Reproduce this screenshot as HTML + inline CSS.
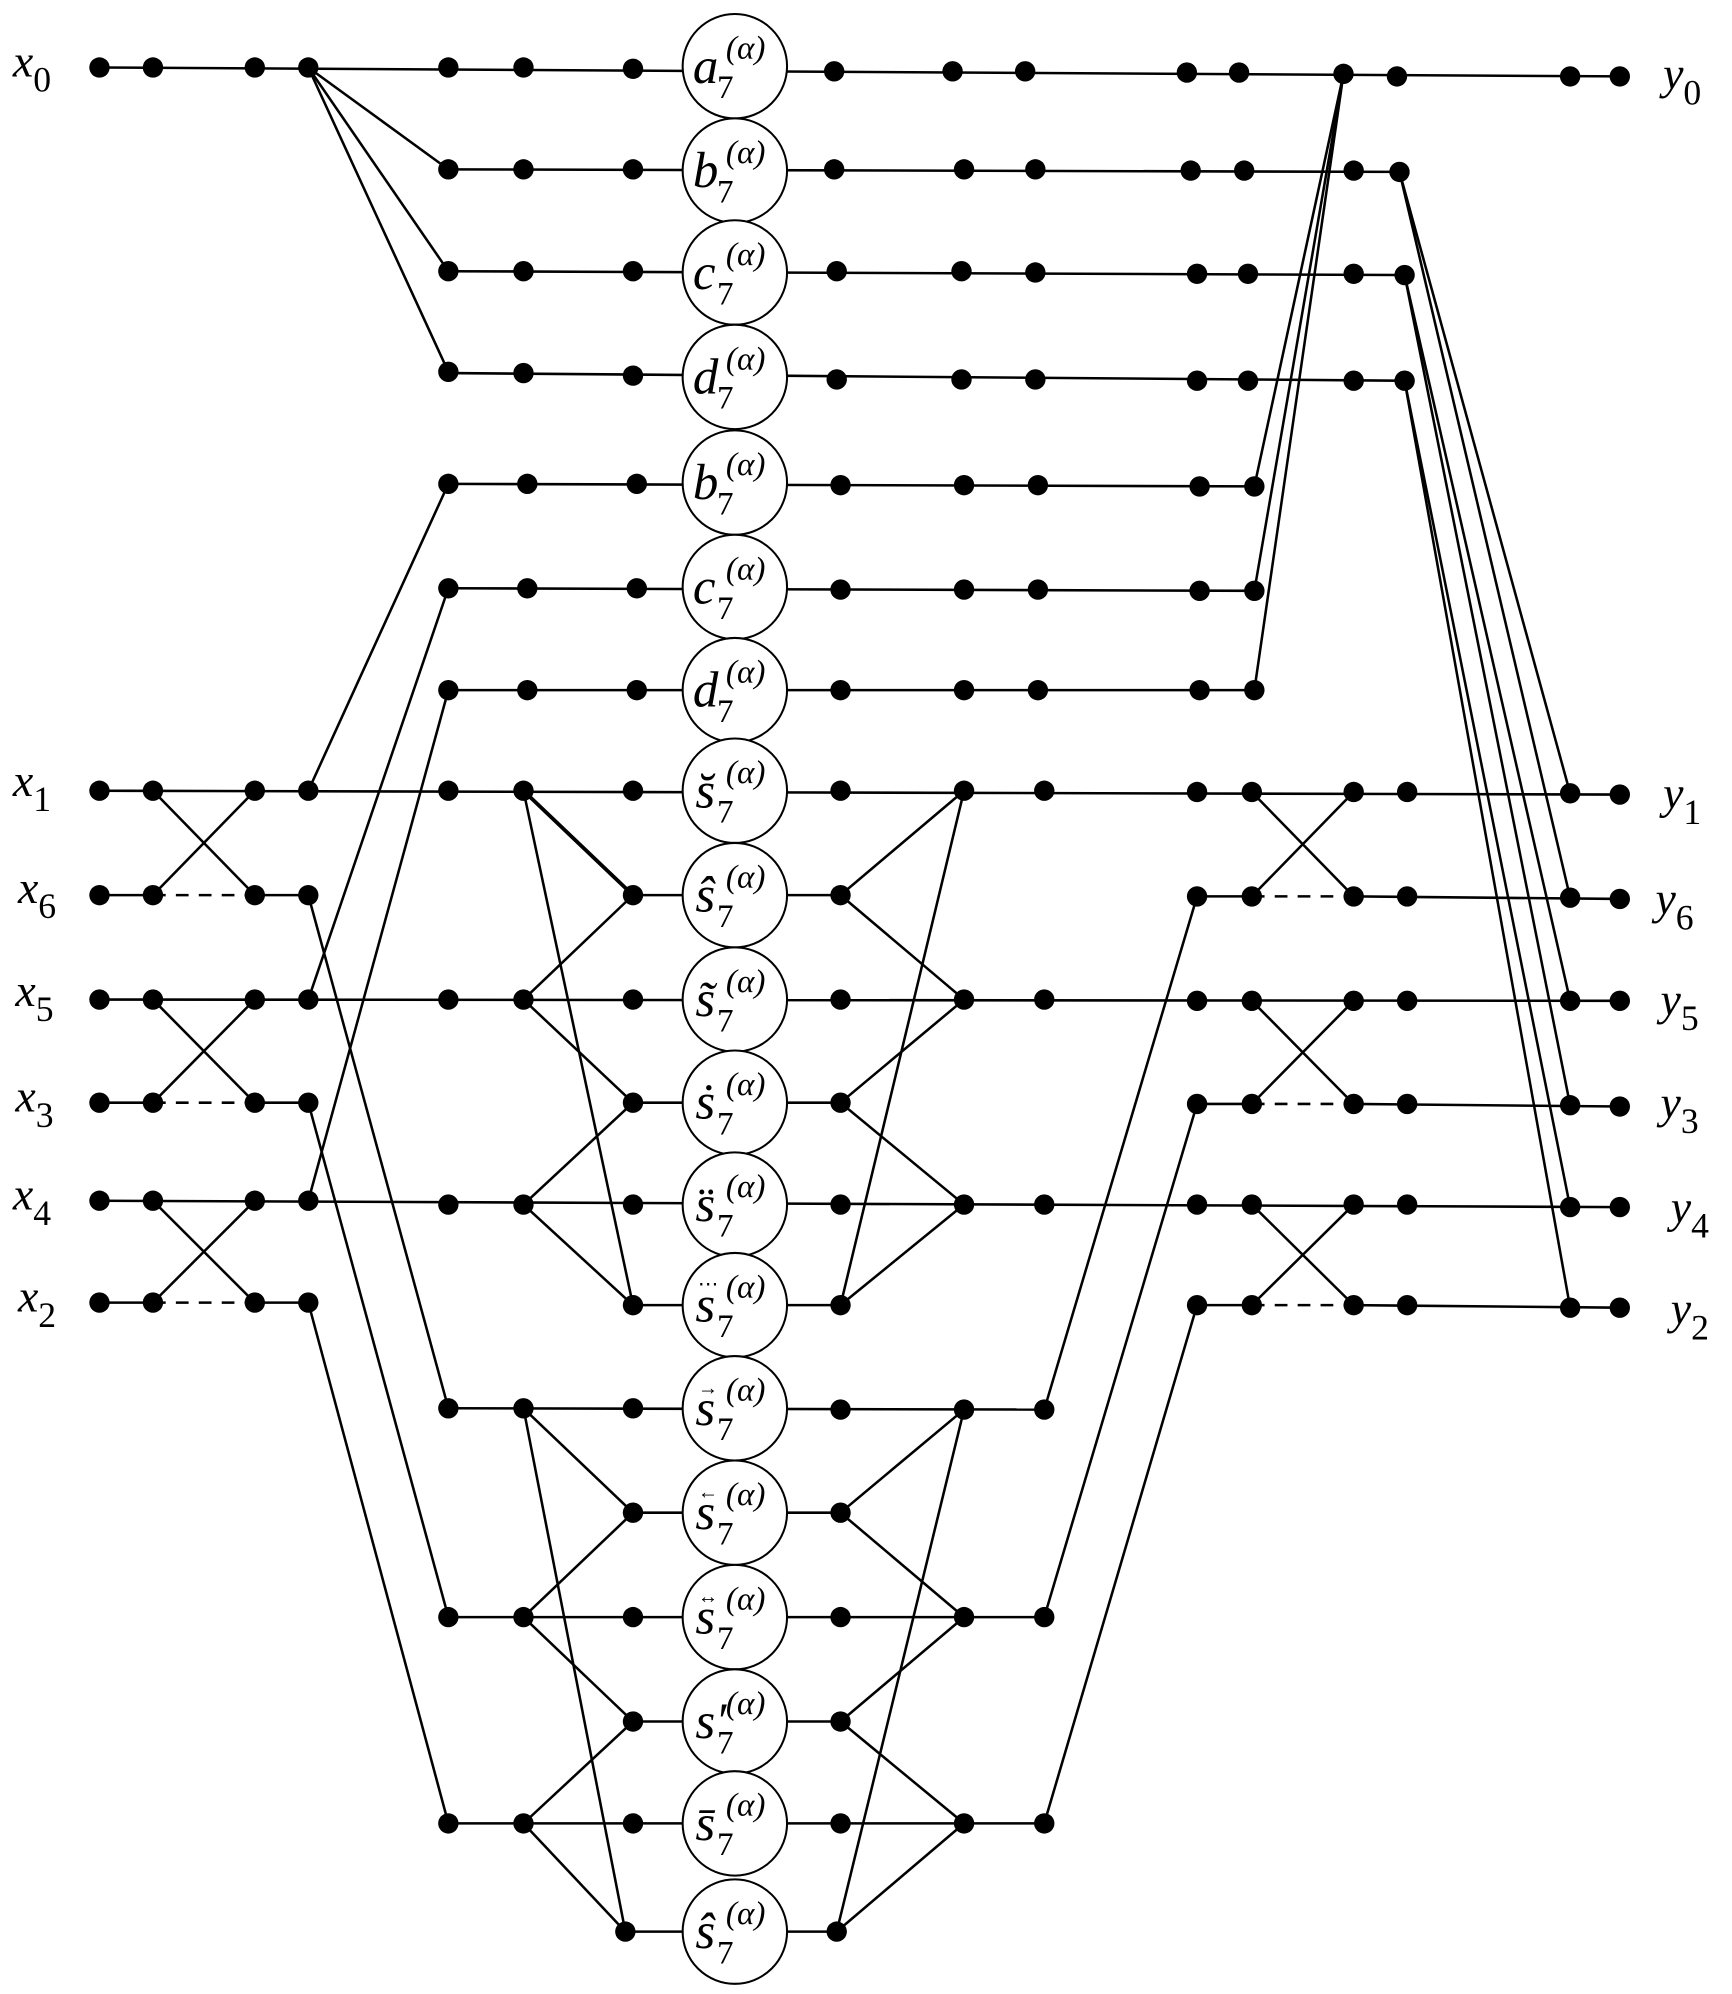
<!DOCTYPE html>
<html><head><meta charset="utf-8"><style>
html,body{margin:0;padding:0;background:#fff;}
svg{display:block;}
.t{font-family:"Liberation Serif","DejaVu Serif",serif;font-style:italic;}
</style></head><body>
<svg width="1732" height="1994" viewBox="0 0 1360 1566" xmlns="http://www.w3.org/2000/svg">
<g stroke="#000" stroke-width="2" fill="none">
<line x1="78" y1="53" x2="1272" y2="60"/>
<line x1="242" y1="53" x2="352" y2="133"/>
<line x1="242" y1="53" x2="352" y2="213"/>
<line x1="242" y1="53" x2="352" y2="292"/>
<line x1="352" y1="133" x2="1099" y2="135"/>
<line x1="352" y1="213" x2="1103" y2="216"/>
<line x1="352" y1="293" x2="1103" y2="299"/>
<line x1="352" y1="380" x2="985" y2="382"/>
<line x1="352" y1="462" x2="985" y2="464"/>
<line x1="352" y1="542" x2="985" y2="542"/>
<line x1="1055" y1="58" x2="985" y2="382"/>
<line x1="1055" y1="58" x2="985" y2="464"/>
<line x1="1055" y1="58" x2="985" y2="542"/>
<line x1="1099" y1="135" x2="1233" y2="623"/>
<line x1="1099" y1="135" x2="1233" y2="705"/>
<line x1="1103" y1="216" x2="1233" y2="786"/>
<line x1="1103" y1="216" x2="1233" y2="868"/>
<line x1="1103" y1="299" x2="1233" y2="948"/>
<line x1="1103" y1="299" x2="1233" y2="1027"/>
<line x1="78" y1="621" x2="1272" y2="624"/>
<line x1="78" y1="785" x2="1272" y2="786"/>
<line x1="78" y1="943" x2="1272" y2="948"/>
<line x1="78" y1="703" x2="120" y2="703"/><line x1="200" y1="703" x2="242" y2="703"/>
<line x1="78" y1="866" x2="120" y2="866"/><line x1="200" y1="866" x2="242" y2="866"/>
<line x1="78" y1="1023" x2="120" y2="1023"/><line x1="200" y1="1023" x2="242" y2="1023"/>
<g stroke-dasharray="10,8"><line x1="120" y1="703" x2="200" y2="703"/><line x1="120" y1="866" x2="200" y2="866"/><line x1="120" y1="1023" x2="200" y2="1023"/>
<line x1="983" y1="704" x2="1063" y2="704"/><line x1="983" y1="867" x2="1063" y2="867"/><line x1="983" y1="1025" x2="1063" y2="1025"/></g>
<line x1="120" y1="621" x2="200" y2="703"/><line x1="120" y1="703" x2="200" y2="621"/>
<line x1="120" y1="785" x2="200" y2="866"/><line x1="120" y1="866" x2="200" y2="785"/>
<line x1="120" y1="943" x2="200" y2="1023"/><line x1="120" y1="1023" x2="200" y2="943"/>
<line x1="242" y1="621" x2="352" y2="380"/>
<line x1="242" y1="785" x2="352" y2="462"/>
<line x1="242" y1="943" x2="352" y2="542"/>
<line x1="242" y1="703" x2="352" y2="1106"/>
<line x1="242" y1="866" x2="352" y2="1270"/>
<line x1="242" y1="1023" x2="352" y2="1432"/>
<line x1="497" y1="703" x2="660" y2="703"/><line x1="497" y1="866" x2="660" y2="866"/><line x1="497" y1="1025" x2="660" y2="1025"/>
<line x1="411" y1="621" x2="497" y2="703" stroke-width="3"/><line x1="411" y1="621" x2="497" y2="1025"/>
<line x1="411" y1="785" x2="497" y2="703"/><line x1="411" y1="785" x2="497" y2="866"/>
<line x1="411" y1="946" x2="497" y2="866"/><line x1="411" y1="946" x2="497" y2="1025"/>
<line x1="757" y1="621" x2="660" y2="703"/><line x1="757" y1="621" x2="660" y2="1025"/>
<line x1="757" y1="785" x2="660" y2="703"/><line x1="757" y1="785" x2="660" y2="866"/>
<line x1="757" y1="946" x2="660" y2="866"/><line x1="757" y1="946" x2="660" y2="1025"/>
<line x1="352" y1="1106" x2="820" y2="1107"/><line x1="352" y1="1270" x2="820" y2="1270"/><line x1="352" y1="1432" x2="820" y2="1432"/>
<line x1="497" y1="1188" x2="660" y2="1188"/><line x1="497" y1="1352" x2="660" y2="1352"/><line x1="491" y1="1517" x2="657" y2="1517"/>
<line x1="411" y1="1106" x2="497" y2="1188"/><line x1="411" y1="1106" x2="491" y2="1517"/>
<line x1="411" y1="1270" x2="497" y2="1188"/><line x1="411" y1="1270" x2="497" y2="1352"/>
<line x1="411" y1="1432" x2="497" y2="1352"/><line x1="411" y1="1432" x2="491" y2="1517"/>
<line x1="757" y1="1107" x2="660" y2="1188"/><line x1="757" y1="1107" x2="657" y2="1517"/>
<line x1="757" y1="1270" x2="660" y2="1188"/><line x1="757" y1="1270" x2="660" y2="1352"/>
<line x1="757" y1="1432" x2="660" y2="1352"/><line x1="757" y1="1432" x2="657" y2="1517"/>
<line x1="820" y1="1107" x2="940" y2="704"/><line x1="820" y1="1270" x2="940" y2="867"/><line x1="820" y1="1432" x2="940" y2="1025"/>
<line x1="940" y1="704" x2="983" y2="704"/><line x1="1063" y1="704" x2="1272" y2="706"/>
<line x1="940" y1="867" x2="983" y2="867"/><line x1="1063" y1="867" x2="1272" y2="869"/>
<line x1="940" y1="1025" x2="983" y2="1025"/><line x1="1063" y1="1025" x2="1272" y2="1027"/>
<line x1="983" y1="622" x2="1063" y2="704"/><line x1="983" y1="704" x2="1063" y2="622"/>
<line x1="983" y1="786" x2="1063" y2="867"/><line x1="983" y1="867" x2="1063" y2="786"/>
<line x1="983" y1="946" x2="1063" y2="1025"/><line x1="983" y1="1025" x2="1063" y2="946"/>
</g>
<g stroke="#000" stroke-width="1.6" fill="#fff">
<circle cx="577" cy="52" r="41"/><circle cx="577" cy="134" r="41"/><circle cx="577" cy="214" r="41"/><circle cx="577" cy="296" r="41"/>
<circle cx="577" cy="379" r="41"/><circle cx="577" cy="461" r="41"/><circle cx="577" cy="542" r="41"/>
<circle cx="577" cy="621" r="41"/><circle cx="577" cy="703" r="41"/><circle cx="577" cy="785" r="41"/><circle cx="577" cy="866" r="41"/><circle cx="577" cy="946" r="41"/><circle cx="577" cy="1025" r="41"/>
<circle cx="577" cy="1106" r="41"/><circle cx="577" cy="1188" r="41"/><circle cx="577" cy="1270" r="41"/><circle cx="577" cy="1352" r="41"/><circle cx="577" cy="1432" r="41"/><circle cx="577" cy="1517" r="41"/>
</g>
<g fill="#000">
<circle cx="78" cy="53" r="8"/><circle cx="120" cy="53" r="8"/><circle cx="200" cy="53" r="8"/><circle cx="242" cy="53" r="8"/>
<circle cx="352" cy="53" r="8"/><circle cx="411" cy="53" r="8"/><circle cx="497" cy="54" r="8"/>
<circle cx="655" cy="56" r="8"/><circle cx="748" cy="56" r="8"/><circle cx="805" cy="56" r="8"/><circle cx="932" cy="57" r="8"/><circle cx="973" cy="57" r="8"/><circle cx="1055" cy="58" r="8"/><circle cx="1097" cy="60" r="8"/><circle cx="1233" cy="60" r="8"/><circle cx="1272" cy="60" r="8"/>
<circle cx="352" cy="133" r="8"/><circle cx="411" cy="133" r="8"/><circle cx="497" cy="133" r="8"/><circle cx="655" cy="133" r="8"/><circle cx="757" cy="133" r="8"/><circle cx="813" cy="133" r="8"/><circle cx="935" cy="134" r="8"/><circle cx="977" cy="134" r="8"/><circle cx="1063" cy="134" r="8"/><circle cx="1099" cy="135" r="8"/>
<circle cx="352" cy="213" r="8"/><circle cx="411" cy="213" r="8"/><circle cx="497" cy="213" r="8"/><circle cx="657" cy="213" r="8"/><circle cx="755" cy="213" r="8"/><circle cx="813" cy="214" r="8"/><circle cx="940" cy="215" r="8"/><circle cx="980" cy="215" r="8"/><circle cx="1063" cy="215" r="8"/><circle cx="1103" cy="216" r="8"/>
<circle cx="352" cy="292" r="8"/><circle cx="411" cy="293" r="8"/><circle cx="497" cy="295" r="8"/><circle cx="657" cy="298" r="8"/><circle cx="755" cy="298" r="8"/><circle cx="813" cy="298" r="8"/><circle cx="940" cy="299" r="8"/><circle cx="980" cy="299" r="8"/><circle cx="1063" cy="299" r="8"/><circle cx="1103" cy="299" r="8"/>
<circle cx="352" cy="380" r="8"/><circle cx="414" cy="380" r="8"/><circle cx="500" cy="380" r="8"/><circle cx="660" cy="381" r="8"/><circle cx="757" cy="381" r="8"/><circle cx="815" cy="381" r="8"/><circle cx="942" cy="382" r="8"/><circle cx="985" cy="382" r="8"/>
<circle cx="352" cy="462" r="8"/><circle cx="414" cy="462" r="8"/><circle cx="500" cy="462" r="8"/><circle cx="660" cy="463" r="8"/><circle cx="757" cy="463" r="8"/><circle cx="815" cy="463" r="8"/><circle cx="942" cy="464" r="8"/><circle cx="985" cy="464" r="8"/>
<circle cx="352" cy="542" r="8"/><circle cx="414" cy="542" r="8"/><circle cx="500" cy="542" r="8"/><circle cx="660" cy="542" r="8"/><circle cx="757" cy="542" r="8"/><circle cx="815" cy="542" r="8"/><circle cx="942" cy="542" r="8"/><circle cx="985" cy="542" r="8"/>
<circle cx="78" cy="621" r="8"/><circle cx="120" cy="621" r="8"/><circle cx="200" cy="621" r="8"/><circle cx="242" cy="621" r="8"/>
<circle cx="78" cy="703" r="8"/><circle cx="120" cy="703" r="8"/><circle cx="200" cy="703" r="8"/><circle cx="242" cy="703" r="8"/>
<circle cx="78" cy="785" r="8"/><circle cx="120" cy="785" r="8"/><circle cx="200" cy="785" r="8"/><circle cx="242" cy="785" r="8"/>
<circle cx="78" cy="866" r="8"/><circle cx="120" cy="866" r="8"/><circle cx="200" cy="866" r="8"/><circle cx="242" cy="866" r="8"/>
<circle cx="78" cy="943" r="8"/><circle cx="120" cy="943" r="8"/><circle cx="200" cy="943" r="8"/><circle cx="242" cy="943" r="8"/>
<circle cx="78" cy="1023" r="8"/><circle cx="120" cy="1023" r="8"/><circle cx="200" cy="1023" r="8"/><circle cx="242" cy="1023" r="8"/>
<circle cx="352" cy="621" r="8"/><circle cx="411" cy="621" r="8"/><circle cx="352" cy="785" r="8"/><circle cx="411" cy="785" r="8"/><circle cx="352" cy="946" r="8"/><circle cx="411" cy="946" r="8"/>
<circle cx="497" cy="621" r="8"/><circle cx="497" cy="703" r="8"/><circle cx="497" cy="785" r="8"/><circle cx="497" cy="866" r="8"/><circle cx="497" cy="946" r="8"/><circle cx="497" cy="1025" r="8"/>
<circle cx="660" cy="621" r="8"/><circle cx="660" cy="703" r="8"/><circle cx="660" cy="785" r="8"/><circle cx="660" cy="866" r="8"/><circle cx="660" cy="946" r="8"/><circle cx="660" cy="1025" r="8"/>
<circle cx="757" cy="621" r="8"/><circle cx="820" cy="621" r="8"/><circle cx="757" cy="785" r="8"/><circle cx="820" cy="785" r="8"/><circle cx="757" cy="946" r="8"/><circle cx="820" cy="946" r="8"/>
<circle cx="352" cy="1106" r="8"/><circle cx="411" cy="1106" r="8"/><circle cx="352" cy="1270" r="8"/><circle cx="411" cy="1270" r="8"/><circle cx="352" cy="1432" r="8"/><circle cx="411" cy="1432" r="8"/>
<circle cx="497" cy="1106" r="8"/><circle cx="497" cy="1188" r="8"/><circle cx="497" cy="1270" r="8"/><circle cx="497" cy="1352" r="8"/><circle cx="497" cy="1432" r="8"/><circle cx="491" cy="1517" r="8"/>
<circle cx="660" cy="1107" r="8"/><circle cx="660" cy="1188" r="8"/><circle cx="660" cy="1270" r="8"/><circle cx="660" cy="1352" r="8"/><circle cx="660" cy="1432" r="8"/><circle cx="657" cy="1517" r="8"/>
<circle cx="757" cy="1107" r="8"/><circle cx="820" cy="1107" r="8"/><circle cx="757" cy="1270" r="8"/><circle cx="820" cy="1270" r="8"/><circle cx="757" cy="1432" r="8"/><circle cx="820" cy="1432" r="8"/>
<circle cx="940" cy="622" r="8"/><circle cx="983" cy="622" r="8"/><circle cx="1063" cy="622" r="8"/><circle cx="1105" cy="622" r="8"/><circle cx="1233" cy="623" r="8"/><circle cx="1272" cy="624" r="8"/>
<circle cx="940" cy="704" r="8"/><circle cx="983" cy="704" r="8"/><circle cx="1063" cy="704" r="8"/><circle cx="1105" cy="704" r="8"/><circle cx="1233" cy="705" r="8"/><circle cx="1272" cy="706" r="8"/>
<circle cx="940" cy="786" r="8"/><circle cx="983" cy="786" r="8"/><circle cx="1063" cy="786" r="8"/><circle cx="1105" cy="786" r="8"/><circle cx="1233" cy="786" r="8"/><circle cx="1272" cy="786" r="8"/>
<circle cx="940" cy="867" r="8"/><circle cx="983" cy="867" r="8"/><circle cx="1063" cy="867" r="8"/><circle cx="1105" cy="867" r="8"/><circle cx="1233" cy="868" r="8"/><circle cx="1272" cy="869" r="8"/>
<circle cx="940" cy="946" r="8"/><circle cx="983" cy="946" r="8"/><circle cx="1063" cy="946" r="8"/><circle cx="1105" cy="946" r="8"/><circle cx="1233" cy="948" r="8"/><circle cx="1272" cy="948" r="8"/>
<circle cx="940" cy="1025" r="8"/><circle cx="983" cy="1025" r="8"/><circle cx="1063" cy="1025" r="8"/><circle cx="1105" cy="1025" r="8"/><circle cx="1233" cy="1027" r="8"/><circle cx="1272" cy="1027" r="8"/>
</g>
<g class="t" fill="#000">
<text x="544" y="65" font-size="40">a</text><text x="570" y="46" font-size="26">(α)</text><text x="563" y="77" font-size="26" font-style="normal">7</text>
<text x="544" y="147" font-size="40">b</text><text x="570" y="128" font-size="26">(α)</text><text x="563" y="159" font-size="26" font-style="normal">7</text>
<text x="544" y="227" font-size="40">c</text><text x="570" y="208" font-size="26">(α)</text><text x="563" y="239" font-size="26" font-style="normal">7</text>
<text x="544" y="309" font-size="40">d</text><text x="570" y="290" font-size="26">(α)</text><text x="563" y="321" font-size="26" font-style="normal">7</text>
<text x="544" y="392" font-size="40">b</text><text x="570" y="373" font-size="26">(α)</text><text x="563" y="404" font-size="26" font-style="normal">7</text>
<text x="544" y="474" font-size="40">c</text><text x="570" y="455" font-size="26">(α)</text><text x="563" y="486" font-size="26" font-style="normal">7</text>
<text x="544" y="555" font-size="40">d</text><text x="570" y="536" font-size="26">(α)</text><text x="563" y="567" font-size="26" font-style="normal">7</text>
<text x="546" y="634" font-size="40">s̆</text><text x="570" y="615" font-size="26">(α)</text><text x="563" y="646" font-size="26" font-style="normal">7</text>
<text x="546" y="716" font-size="40">ŝ</text><text x="570" y="697" font-size="26">(α)</text><text x="563" y="728" font-size="26" font-style="normal">7</text>
<text x="546" y="798" font-size="40">s̃</text><text x="570" y="779" font-size="26">(α)</text><text x="563" y="810" font-size="26" font-style="normal">7</text>
<text x="546" y="879" font-size="40">ṡ</text><text x="570" y="860" font-size="26">(α)</text><text x="563" y="891" font-size="26" font-style="normal">7</text>
<text x="546" y="959" font-size="40">s̈</text><text x="570" y="940" font-size="26">(α)</text><text x="563" y="971" font-size="26" font-style="normal">7</text>
<text x="546" y="1038" font-size="40">s</text><text x="548" y="1014" font-size="16" font-style="normal">⋯</text><text x="570" y="1019" font-size="26">(α)</text><text x="563" y="1050" font-size="26" font-style="normal">7</text>
<text x="546" y="1119" font-size="40">s</text><text x="548" y="1095" font-size="16" font-style="normal">→</text><text x="570" y="1100" font-size="26">(α)</text><text x="563" y="1131" font-size="26" font-style="normal">7</text>
<text x="546" y="1201" font-size="40">s</text><text x="548" y="1177" font-size="16" font-style="normal">←</text><text x="570" y="1182" font-size="26">(α)</text><text x="563" y="1213" font-size="26" font-style="normal">7</text>
<text x="546" y="1283" font-size="40">s</text><text x="548" y="1259" font-size="16" font-style="normal">↔</text><text x="570" y="1264" font-size="26">(α)</text><text x="563" y="1295" font-size="26" font-style="normal">7</text>
<text x="546" y="1365" font-size="40">s′</text><text x="570" y="1346" font-size="26">(α)</text><text x="563" y="1377" font-size="26" font-style="normal">7</text>
<text x="546" y="1445" font-size="40">s̄</text><text x="570" y="1426" font-size="26">(α)</text><text x="563" y="1457" font-size="26" font-style="normal">7</text>
<text x="546" y="1530" font-size="40">ŝ</text><text x="570" y="1511" font-size="26">(α)</text><text x="563" y="1542" font-size="26" font-style="normal">7</text>
</g>
<g class="t" fill="#000" font-size="36">
<text x="10" y="60">x<tspan font-size="28" font-style="normal" dy="12">0</tspan></text>
<text x="10" y="625">x<tspan font-size="28" font-style="normal" dy="12">1</tspan></text>
<text x="14" y="709">x<tspan font-size="28" font-style="normal" dy="12">6</tspan></text>
<text x="12" y="790">x<tspan font-size="28" font-style="normal" dy="12">5</tspan></text>
<text x="12" y="873">x<tspan font-size="28" font-style="normal" dy="12">3</tspan></text>
<text x="10" y="950">x<tspan font-size="28" font-style="normal" dy="12">4</tspan></text>
<text x="14" y="1030">x<tspan font-size="28" font-style="normal" dy="12">2</tspan></text>
<text x="1306" y="70">y<tspan font-size="28" font-style="normal" dy="12">0</tspan></text>
<text x="1306" y="635">y<tspan font-size="28" font-style="normal" dy="12">1</tspan></text>
<text x="1300" y="718">y<tspan font-size="28" font-style="normal" dy="12">6</tspan></text>
<text x="1304" y="797">y<tspan font-size="28" font-style="normal" dy="12">5</tspan></text>
<text x="1304" y="878">y<tspan font-size="28" font-style="normal" dy="12">3</tspan></text>
<text x="1312" y="960">y<tspan font-size="28" font-style="normal" dy="12">4</tspan></text>
<text x="1312" y="1040">y<tspan font-size="28" font-style="normal" dy="12">2</tspan></text>
</g>
</svg>
</body></html>
